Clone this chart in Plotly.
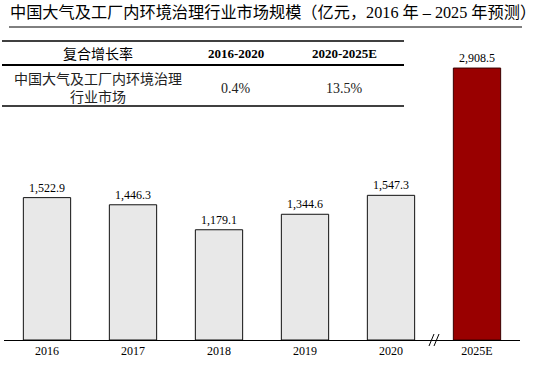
import plotly.graph_objects as go

# ---- data ----
years = ["2016", "2017", "2018", "2019", "2020", "2025E"]
values = [1522.9, 1446.3, 1179.1, 1344.6, 1547.3, 2908.5]
bar_colors = ["#e8e8e8", "#e8e8e8", "#e8e8e8", "#e8e8e8", "#e8e8e8", "#990000"]
line_colors = ["#111111", "#111111", "#111111", "#111111", "#111111", "#3a0000"]

title_text = "中国大气及工厂内环境治理行业市场规模（亿元，2016 年 – 2025 年预测）"
table_header = ["复合增长率", "2016-2020", "2020-2025E"]
row_label_lines = ["中国大气及工厂内环境治理", "行业市场"]
row_values = ["0.4%", "13.5%"]

# ---- geometry helpers ----
W, H = 550, 369
L, R, T, B = 4, 30, 30, 29
PW, PH = W - L - R, H - T - B


def px(x):
    return (x - L) / PW


def py(y):
    return (H - B - y) / PH


SERIF = "Liberation Serif, Times New Roman, serif"
CJK = "Liberation Serif, Noto Sans CJK SC, serif"

fig = go.Figure()
fig.add_trace(go.Bar(
    x=years, y=values,
    marker=dict(color=bar_colors, line=dict(color=line_colors, width=1)),
    width=0.55,
    texttemplate="%{y:,.1f}", textposition="outside",
    textfont=dict(family=SERIF, size=12, color="#000000"),
    cliponaxis=False, hoverinfo="skip",
))

shapes = []
annotations = []

# title + underline
annotations.append(dict(text=title_text, xref="paper", yref="paper",
                        x=px(8), y=py(13), xanchor="left", yanchor="middle",
                        showarrow=False, font=dict(family=CJK, size=16.2, color="#000000")))
shapes.append(dict(type="line", xref="paper", yref="paper", x0=px(9), x1=px(522),
                   y0=py(27), y1=py(27), line=dict(color="#000000", width=1)))

# table lines
for yy, wd in [(41, 1.5), (65, 2), (106, 1.5)]:
    shapes.append(dict(type="line", xref="paper", yref="paper", x0=px(2), x1=px(404),
                       y0=py(yy), y1=py(yy), line=dict(color="#000000", width=wd)))

col_centers = [98, 236, 344]
annotations.append(dict(text=table_header[0], xref="paper", yref="paper",
                        x=px(col_centers[0]), y=py(53), xanchor="center", yanchor="middle",
                        showarrow=False, font=dict(family="Noto Sans CJK SC", size=14, color="#000000")))
for i in (1, 2):
    annotations.append(dict(text="<b>" + table_header[i] + "</b>", xref="paper", yref="paper",
                            x=px(col_centers[i]), y=py(53), xanchor="center", yanchor="middle",
                            showarrow=False, font=dict(family=SERIF, size=13, color="#000000")))
annotations.append(dict(text="<br>".join(row_label_lines), xref="paper", yref="paper",
                        x=px(col_centers[0]), y=py(87.5), xanchor="center", yanchor="middle",
                        align="center", showarrow=False,
                        font=dict(family="Noto Sans CJK SC", size=14, color="#222222")))
for i, v in enumerate(row_values):
    annotations.append(dict(text=v, xref="paper", yref="paper",
                            x=px(col_centers[i + 1]), y=py(88), xanchor="center", yanchor="middle",
                            showarrow=False, font=dict(family=SERIF, size=14, color="#222222")))

# axis break marker between 2020 and 2025E
brk = (4.5 + 0.5) / len(years)  # paper x of break
bx = L + brk * PW
for off in (-2.5, 2.5):
    shapes.append(dict(type="line", xref="paper", yref="paper",
                       x0=px(bx + off - 2.5), x1=px(bx + off + 2.5),
                       y0=py(346), y1=py(334), line=dict(color="#000000", width=1)))

fig.update_layout(
    width=W, height=H,
    margin=dict(l=L, r=R, t=T, b=B),
    paper_bgcolor="#ffffff", plot_bgcolor="#ffffff",
    showlegend=False,
    shapes=shapes, annotations=annotations,
    xaxis=dict(type="category", range=[-0.5, 5.5], showline=True, linecolor="#000000",
               linewidth=1, ticks="", showgrid=False, zeroline=False,
               tickfont=dict(family=SERIF, size=12, color="#000000")),
    yaxis=dict(range=[0, PH / 0.0935], visible=False, showgrid=False, zeroline=False),
)

fig.write_html("out.html", config={"displayModeBar": False},
               post_script="document.body.style.margin='0';document.body.style.overflow='hidden';")
